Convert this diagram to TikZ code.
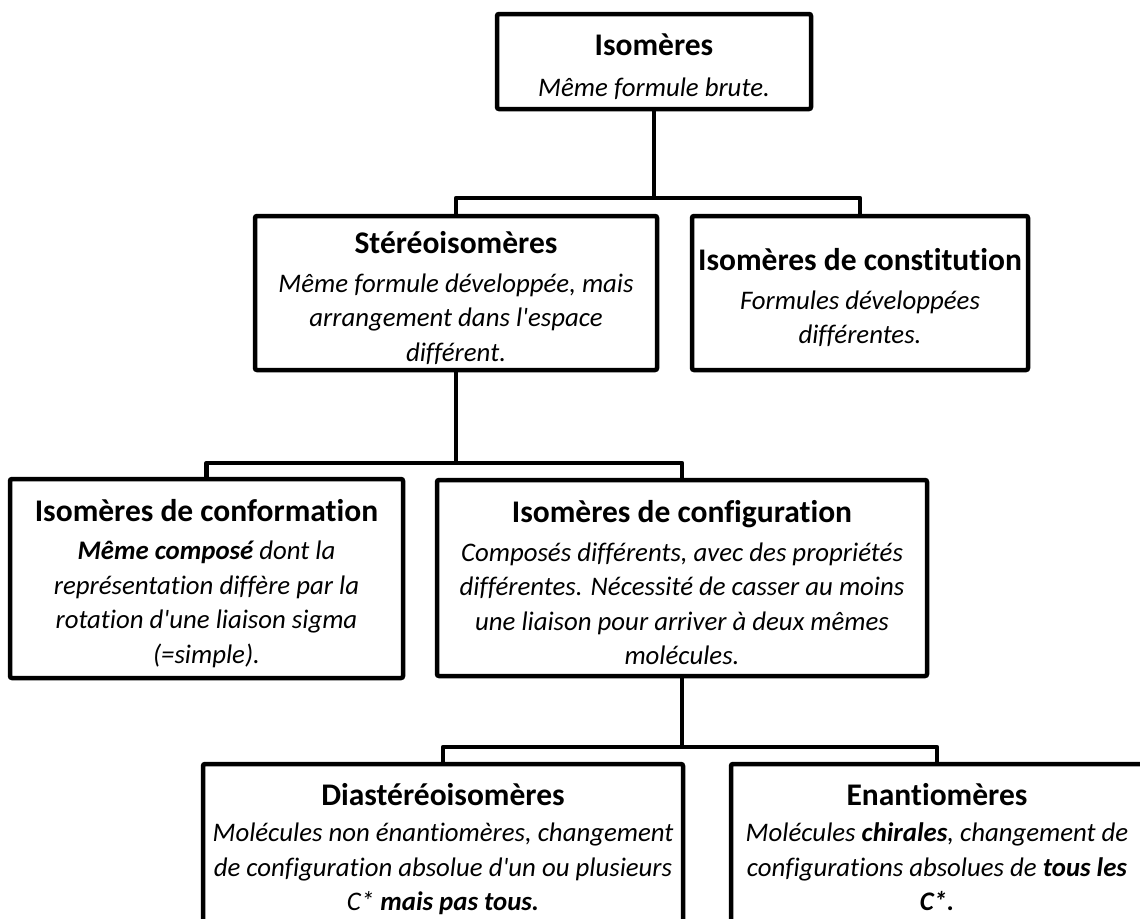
\documentclass[tikz,border=0pt]{standalone}
\usepackage{fontspec}
\setmainfont{Carlito}[Ligatures={NoCommon}]
\newcommand\boxheadfont{\upshape\bfseries\fontsize{31.5}{37}\selectfont}
\newcommand\boxhead{\boxheadfont\rule{0pt}{32pt}}
\newcommand\qs{\textquotesingle}
\begin{document}
\begin{tikzpicture}[x=1pt,y=-1pt,
  box/.style={draw=black, line width=4.5pt, rounded corners=2pt, align=center, inner sep=0pt,
    fill=white, font=\fontsize{26.8}{34.5}\selectfont\itshape},
  conn/.style={draw=black, line width=4.5pt, line join=round}]
\useasboundingbox (0,0) rectangle (1140,918);
\fill[white] (0,0) rectangle (1140,918);
\begin{scope}
\clip (0,0) rectangle (1140,918);
\node[box, minimum width=314pt, minimum height=95pt] (iso) at (654,61.5)
  {{\boxhead Isomères}\\[6pt]Même formule brute.};
\node[box, minimum width=402pt, minimum height=154pt] (stereo) at (456,293)
  {{\boxhead Stéréoisomères}\\[4pt]Même formule développée, mais\\arrangement dans l\qs espace\\différent.};
\node[box, minimum width=336pt, minimum height=154pt] (const) at (860,293)
  {{\boxhead Isomères de constitution}\\[4pt]Formules développées\\différentes.};
\node[box, minimum width=393pt, minimum height=199pt] (conf) at (206.5,578.5)
  {{\boxhead Isomères de conformation}\\[4pt]\textbf{Même composé} dont la\\représentation diffère par la\\rotation d\qs une liaison sigma\\(=simple).};
\node[box, minimum width=490pt, minimum height=196pt] (config) at (682,578)
  {{\boxhead Isomères de configuration}\\[4pt]Composés différents, avec des propriétés\\différentes. Nécessité de casser au moins\\une liaison pour arriver à deux mêmes\\molécules.};
\node[box, minimum width=480pt, minimum height=170pt] (dia) at (443,849)
  {{\boxheadfont Diastéréoisomères}\\[2pt]Molécules non énantiomères, changement\\de configuration absolue d\qs un ou plusieurs\\C* \textbf{mais pas tous.}};
\node[box, minimum width=412pt, minimum height=170pt] (enan) at (937,849)
  {{\boxheadfont Enantiomères\vphantom{Dé}}\\[2pt]Molécules \textbf{chirales}, changement de\\configurations absolues de \textbf{tous les}\\\textbf{C*.}\vphantom{p}};
\coordinate (j1) at (654,198);
\coordinate (j2) at (456,463);
\coordinate (j3) at (682,747);
\draw[conn] (iso.south) -- (j1);
\draw[conn] (stereo.north) |- (j1) -| (const.north);
\draw[conn] (stereo.south) -- (j2);
\draw[conn] (conf.north) |- (j2) -| (config.north);
\draw[conn] (config.south) -- (j3);
\draw[conn] (dia.north) |- (j3) -| (enan.north);
\end{scope}
\end{tikzpicture}
\end{document}
